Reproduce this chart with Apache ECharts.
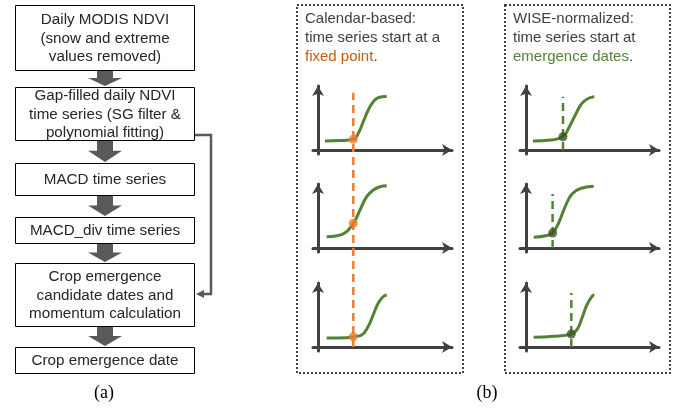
<!DOCTYPE html>
<html>
<head>
<meta charset="utf-8">
<script src="https://cdn.jsdelivr.net/npm/echarts@6/dist/echarts.min.js"></script>
<style>
  html, body { margin: 0; padding: 0; background: #fff; }
  #main { width: 681px; height: 409px; }
</style>
</head>
<body>
<div id="main"></div>
<script>
// flowchart steps (a)
const steps = [
  'Daily MODIS NDVI\n(snow and extreme\nvalues removed)',
  'Gap-filled daily NDVI\ntime series (SG filter &\npolynomial fitting)',
  'MACD time series',
  'MACD_div time series',
  'Crop emergence\ncandidate dates and\nmomentum calculation',
  'Crop emergence date'
];
// box top / bottom (px)
const boxTops = [5, 87, 163, 217, 263, 347];
const boxBottoms = [70, 140, 195, 243, 326, 373];

// NDVI curves, calendar-based panel (x = day, y = NDVI, arbitrary units)
const calCurve1 = [[7, 9], [22, 9.4], [35.3, 10.7], [40.3, 16.7], [45.3, 28.3], [50.3, 40], [55.3, 48.3], [60.3, 52.3], [68.7, 53.6]];
const calCurve2 = [[8.7, 11.3], [25.3, 14.2], [35.3, 24.7], [42, 38], [48.7, 51.3], [55.3, 58], [62, 61.3], [68.7, 62.3]];
const calCurve3 = [[8.7, 9], [28.7, 9.3], [35.3, 10.3], [43.7, 12], [50.3, 20.7], [55.3, 32.3], [60.3, 44], [65.3, 50.5], [68.7, 52]];
const calDots = [[35.3, 10.7], [35.3, 24.7], [35.3, 10.3]];
const calStart = 35.3;

// NDVI curves, WISE-normalized panel
const wiseCurve1 = [[7, 9], [24.3, 10], [37, 13.3], [42.6, 21.7], [49.3, 35], [56, 46.7], [62.6, 51.7], [68.3, 53.3]];
const wiseCurve2 = [[7.7, 10.7], [21, 12.5], [26.6, 15], [32.6, 25], [39.3, 41.7], [46, 54], [54.3, 59.5], [67.7, 61.7]];
const wiseCurve3 = [[7.7, 9.7], [27.6, 10.7], [45.3, 13], [51, 17.3], [56, 29], [61, 42.3], [66, 50.7], [68.3, 52.3]];
const wiseDots = [[37, 13.3], [26.6, 15], [45.3, 13]];
const wiseTops = [53.3, 54, 54];

const GREEN = '#548235';
const DARKGREEN = '#375623';
const ORANGE = '#ed7d31';
const AXIS = '#404040';
const ARROW = '#595959';

const chart = echarts.init(document.getElementById('main'));

// mini chart layout
const chartTops = [86, 184, 283];
const panelLefts = [313, 520];
const grids = [], xAxes = [], yAxes = [], series = [];

function miniAxes(idx, xmin, xmax) {
  xAxes.push({
    type: 'value', gridIndex: idx, min: xmin, max: xmax,
    axisLine: { show: true, onZero: true, symbol: ['none', 'arrow'], symbolSize: [9, 10], lineStyle: { color: AXIS, width: 3 } },
    axisTick: { show: false }, axisLabel: { show: false }, splitLine: { show: false }
  });
  yAxes.push({
    type: 'value', gridIndex: idx, min: -4, max: 64,
    axisLine: { show: true, onZero: true, symbol: ['none', 'arrow'], symbolSize: [9, 10], lineStyle: { color: AXIS, width: 3 } },
    axisTick: { show: false }, axisLabel: { show: false }, splitLine: { show: false }
  });
}

const calCurves = [calCurve1, calCurve2, calCurve3];
const wiseCurves = [wiseCurve1, wiseCurve2, wiseCurve3];

// calendar panel charts: 0..2, wise panel charts: 3..5
[0, 1].forEach(function (p) {
  chartTops.forEach(function (top, i) {
    const idx = p * 3 + i;
    grids.push({ left: panelLefts[p], top: top, width: 139, height: 68 });
    if (p === 0) miniAxes(idx, -5, 134); else miniAxes(idx, -6, 133);
    const curve = p === 0 ? calCurves[i] : wiseCurves[i];
    series.push({
      type: 'line', xAxisIndex: idx, yAxisIndex: idx, data: curve, smooth: 0.45,
      symbol: 'none', lineStyle: { color: GREEN, width: 3 }, z: 3
    });
    if (p === 1) {
      series.push({
        type: 'line', xAxisIndex: idx, yAxisIndex: idx,
        data: [[wiseDots[i][0], 0], [wiseDots[i][0], wiseTops[i]]],
        symbol: 'none', lineStyle: { color: GREEN, width: 2.5, type: [8, 5] }, z: 2
      });
    }
    series.push({
      type: 'scatter', xAxisIndex: idx, yAxisIndex: idx,
      data: [p === 0 ? calDots[i] : wiseDots[i]], symbolSize: 9,
      itemStyle: { color: p === 0 ? ORANGE : DARKGREEN }, z: 5
    });
  });
});

// overlay grid for the fixed calendar start line that crosses all three charts
grids.push({ left: 313, top: 86, width: 139, height: 261 });
xAxes.push({ type: 'value', gridIndex: 6, min: -5, max: 134, show: false });
yAxes.push({ type: 'value', gridIndex: 6, min: 0, max: 100, show: false });
series.push({
  type: 'line', xAxisIndex: 6, yAxisIndex: 6, data: [[calStart, 0], [calStart, 97.4]],
  symbol: 'none', lineStyle: { color: ORANGE, width: 2.5, type: [8, 5] }, z: 2
});

// flowchart graphics
const graphics = [];
const fontMain = '15.2px "Liberation Sans", Arial, sans-serif';
steps.forEach(function (s, i) {
  const y0 = boxTops[i], y1 = boxBottoms[i];
  graphics.push({
    type: 'rect', shape: { x: 15.5, y: y0 + 0.5, width: 179, height: y1 - y0 },
    style: { fill: '#fff', stroke: '#000', lineWidth: 1 }
  });
  graphics.push({
    type: 'text', x: 105, y: (y0 + y1) / 2 + 1,
    style: { text: s, font: fontMain, fill: '#262626', align: 'center', verticalAlign: 'middle', lineHeight: 18.5 }
  });
  if (i < steps.length - 1) {
    const a = y1 + 1, b = boxTops[i + 1] - 1, mid = a + (b - a) * 0.47;
    graphics.push({
      type: 'polygon',
      shape: { points: [[97, a], [113, a], [113, mid], [122, mid], [105, b], [88, mid], [97, mid]] },
      style: { fill: ARROW }
    });
  }
});
// feedback connector
graphics.push({
  type: 'polyline', shape: { points: [[195, 135], [211, 135], [211, 294], [202, 294]] },
  style: { stroke: ARROW, lineWidth: 2.5, fill: null }
});
graphics.push({
  type: 'polygon', shape: { points: [[196, 294], [204, 290], [204, 298]] },
  style: { fill: ARROW }
});
graphics.push({
  type: 'text', x: 104, y: 393,
  style: { text: '(a)', font: '18px "Liberation Serif", "Times New Roman", serif', fill: '#000', align: 'center', verticalAlign: 'middle' }
});
graphics.push({
  type: 'text', x: 487, y: 393,
  style: { text: '(b)', font: '18px "Liberation Serif", "Times New Roman", serif', fill: '#000', align: 'center', verticalAlign: 'middle' }
});

// dotted panels
[[297, 463], [505, 670]].forEach(function (p) {
  graphics.push({
    type: 'rect', shape: { x: p[0], y: 5, width: p[1] - p[0], height: 368 },
    style: { fill: null, stroke: AXIS, lineWidth: 2, lineDash: [2, 2] }
  });
});
const panelFont = '15px "Liberation Sans", Arial, sans-serif';
graphics.push({
  type: 'text', x: 305, y: 9,
  style: {
    text: 'Calendar-based:\ntime series start at a\n{o|fixed point}.', font: panelFont, fill: AXIS, lineHeight: 19,
    rich: { o: { fill: '#c55a11', font: panelFont, lineHeight: 19 } }
  }
});
graphics.push({
  type: 'text', x: 513, y: 9,
  style: {
    text: 'WISE-normalized:\ntime series start at\n{g|emergence dates}.', font: panelFont, fill: AXIS, lineHeight: 19,
    rich: { g: { fill: GREEN, font: panelFont, lineHeight: 19 } }
  }
});

chart.setOption({
  animation: false,
  backgroundColor: '#fff',
  grid: grids,
  xAxis: xAxes,
  yAxis: yAxes,
  series: series,
  graphic: graphics
});
</script>
</body>
</html>
